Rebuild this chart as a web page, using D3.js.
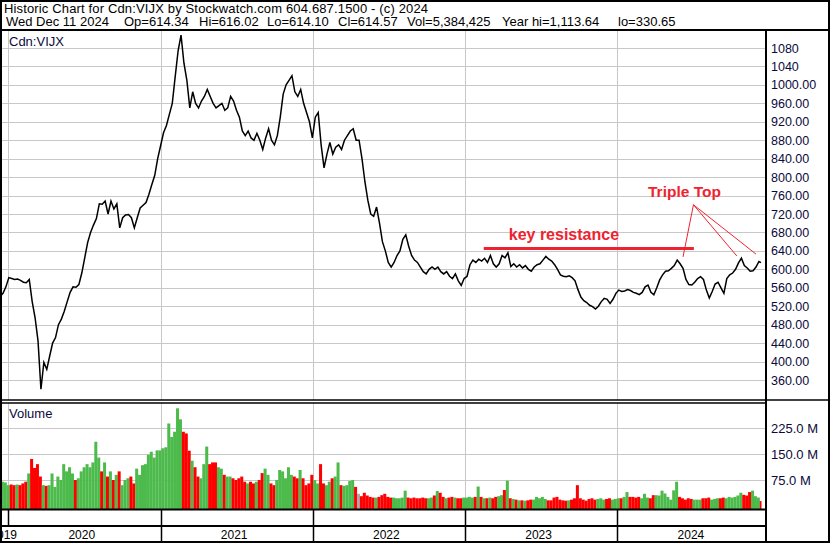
<!DOCTYPE html>
<html><head><meta charset="utf-8">
<script src="https://cdn.jsdelivr.net/npm/d3@7"></script>
<style>
html,body{margin:0;padding:0;background:#fff;}
svg{display:block;font-family:"Liberation Sans",Arial,sans-serif;}
</style></head><body>
<svg id="c" width="830" height="543"></svg>
<script>
// ---------- DATA ----------
const firstWeek = "2019-12-13";   // weekly closes, Fridays
const lastDay = "2024-12-11";     // final (partial week) close
const closes = [
541,548,562,582,580,578,579,576,572,571,
578,530,495,445,340,398,383,412,440,452,
480,492,509,530,550,562,561,567,592,625,
658,680,696,710,742,741,748,720,748,731,
742,690,712,718,719,712,690,712,733,739,
745,763,784,804,840,868,896,912,936,960,
1018,1074,1108,1047,1010,950,985,960,950,965,
975,990,975,960,950,955,960,945,950,975,
965,945,930,900,890,900,885,880,895,880,
860,885,905,880,870,890,930,980,1000,1010,
1020,985,975,990,960,940,920,885,930,940,
870,820,850,875,850,865,870,860,880,890,
900,905,880,880,840,790,750,720,715,735,
700,660,640,615,605,615,630,640,665,675,
650,630,620,615,605,595,590,600,605,600,
605,595,590,595,585,580,590,575,565,580,
585,610,620,615,622,618,624,615,630,612,
605,612,630,625,636,606,612,605,610,603,
608,600,596,605,610,612,620,628,622,618,
610,600,588,585,584,586,582,575,556,540,
532,528,522,519,514,520,530,537,535,526,
535,548,555,552,553,556,554,550,548,545,
550,562,566,550,545,560,577,588,596,597,
602,608,620,612,602,578,567,566,572,580,
584,578,555,538,552,568,572,560,548,580,
588,592,600,614,624,608,603,596,597,605,
617,614.57];
const volumesM = [
70,70,68,60,62,60,62,60,65,70,
94,136,110,121,85,60,58,60,94,55,
85,75,121,100,112,94,75,80,100,112,
121,112,126,186,140,100,126,85,100,75,
90,100,60,75,80,85,65,108,90,118,
121,148,157,140,161,161,167,170,239,200,
215,283,251,215,210,160,131,112,85,80,
121,172,121,126,126,112,108,90,85,85,
80,75,80,85,70,65,70,65,70,75,
95,108,90,65,60,75,104,100,80,112,
90,85,80,104,80,60,65,90,75,65,
121,65,60,70,80,85,126,60,58,60,
72,75,55,35,28,38,30,26,24,24,
26,31,35,26,24,24,22,22,24,44,
24,22,24,22,22,24,22,22,24,30,
43,38,26,22,24,26,24,22,22,24,
24,26,24,26,56,26,22,22,24,22,
26,28,31,46,73,22,20,18,16,16,
15,16,18,18,26,22,26,20,16,16,
24,26,18,16,15,16,18,22,60,22,
18,15,20,22,18,20,22,18,20,22,
18,20,22,22,26,40,26,26,24,26,
22,35,24,22,31,31,30,44,36,26,
18,45,70,26,22,18,22,20,18,18,
18,22,22,24,18,20,22,22,24,22,
26,24,26,30,38,32,30,40,44,28,
24,14];
const priceTicks = [360,400,440,480,520,560,600,640,680,720,760,800,840,880,920,960,1000,1040,1080];
const priceTickLabels = ["360.00","400.00","440.00","480.00","520.00","560.00","600.00","640.00","680.00","720.00","760.00","800.00","840.00","880.00","920.00","960.00","1000.00","1040","1080"];
const volumeTicks = [75,150,225];
const volumeTickLabels = ["75.0 M","150.0 M","225.0 M"];
const yearStarts = ["2020-01-01","2021-01-01","2022-01-01","2023-01-01","2024-01-01","2025-01-01"];
const yearLabels = ["2020","2021","2022","2023","2024"];
const headerLine1 = "Historic Chart for Cdn:VIJX by Stockwatch.com 604.687.1500 - (c) 2024";
const headerLine2 = ["Wed Dec 11 2024","Op=614.34","Hi=616.02","Lo=614.10","Cl=614.57","Vol=5,384,425","Year hi=1,113.64","lo=330.65"];
const headerLine2X = [6,124,199,267,338,407,502,618];
const symbolLabel = "Cdn:VIJX";
const resistanceLine = [["2023-02-15",645],["2024-07-03",645]];
const tripleTopApex = ["2024-07-02",740];
const tripleTopTargets = [["2024-06-07",627],["2024-10-14",629],["2024-11-29",633]];
const noteKey = ["key resistance","2023-04-16",664];
const noteTriple = ["Triple Top","2024-03-15",756];

// ---------- CHART ----------
const parse = d3.timeParse("%Y-%m-%d");
const dates = d3.timeFriday.range(parse(firstWeek), d3.timeDay.offset(parse(lastDay), -4));
dates.push(parse(lastDay));
const data = dates.map((d,i)=>({date:d, close:closes[i], vol:volumesM[i], prev: i>0?closes[i-1]:closes[i]}));

const svg = d3.select("#c");
const L=2, R=766, pT=31, pB=400, vT=403, vB=509;
const INK="#0a0a3c", GRID="#c8c8c8", RED="#ef2330";

const x = d3.scaleTime().domain([parse("2020-01-01"), parse(lastDay)]).range([8,761]);
const y = d3.scaleLinear().domain([360,1080]).range([380,48]);
const vy = d3.scaleLinear().domain([0,225]).range([505.85,428.3]);

svg.append("rect").attr("width",830).attr("height",543).attr("fill","#fff");

const defs = svg.append("defs");
defs.append("clipPath").attr("id","pc").append("rect").attr("x",L).attr("y",pT).attr("width",R-L).attr("height",pB-pT);
defs.append("clipPath").attr("id","vc").append("rect").attr("x",L).attr("y",vT).attr("width",R-L).attr("height",vB-vT);
defs.append("clipPath").attr("id","dc").append("rect").attr("x",2).attr("y",510).attr("width",R-2).attr("height",31);

// grid
const g = svg.append("g");
g.selectAll(".hg").data(priceTicks).join("line")
  .attr("x1",L).attr("x2",R).attr("y1",d=>Math.round(y(d))+0.5).attr("y2",d=>Math.round(y(d))+0.5)
  .attr("stroke",GRID);
g.selectAll(".vg").data(volumeTicks).join("line")
  .attr("x1",L).attr("x2",R).attr("y1",d=>Math.round(vy(d))+0.5).attr("y2",d=>Math.round(vy(d))+0.5)
  .attr("stroke",GRID);
const yb = yearStarts.slice(0,5).map(parse);
yb.forEach(d=>{
  const xx = Math.round(x(d))+0.5;
  g.append("line").attr("x1",xx).attr("x2",xx).attr("y1",pT).attr("y2",pB).attr("stroke",GRID);
  g.append("line").attr("x1",xx).attr("x2",xx).attr("y1",vT).attr("y2",vB).attr("stroke",GRID);
});

// volume bars
const wk = x(parse("2020-01-08")) - x(parse("2020-01-01"));
svg.append("g").attr("clip-path","url(#vc)").selectAll("rect").data(data).join("rect")
  .attr("x",(d,i)=> i===data.length-1 ? x(d.date)-wk*3/7 : x(d.date)-wk*5/7)
  .attr("width",(d,i)=> i===data.length-1 ? wk*3/7+0.5 : wk+0.1)
  .attr("y",d=>vy(d.vol)).attr("height",d=>vB-vy(d.vol))
  .attr("fill",d=> d.close>d.prev ? "#4cbb4c" : (d.close<d.prev ? "#ff0000" : "#aaaaaa"));

// price line
svg.append("path").datum(data).attr("clip-path","url(#pc)")
  .attr("d", d3.line().x(d=>x(d.date)).y(d=>y(d.close)))
  .attr("fill","none").attr("stroke","#000").attr("stroke-width",1.5).attr("stroke-linejoin","miter");

// annotations
svg.append("line")
  .attr("x1",x(parse(resistanceLine[0][0]))).attr("x2",x(parse(resistanceLine[1][0])))
  .attr("y1",y(resistanceLine[0][1])).attr("y2",y(resistanceLine[1][1]))
  .attr("stroke",RED).attr("stroke-width",3);
tripleTopTargets.forEach(t=>{
  svg.append("line")
    .attr("x1",x(parse(tripleTopApex[0]))).attr("y1",y(tripleTopApex[1]))
    .attr("x2",x(parse(t[0]))).attr("y2",y(t[1]))
    .attr("stroke",RED).attr("stroke-width",1);
});
svg.append("text").attr("x",x(parse(noteKey[1]))).attr("y",y(noteKey[2]))
  .attr("font-size",16).attr("font-weight","bold").attr("fill",RED).text(noteKey[0]);
svg.append("text").attr("x",x(parse(noteTriple[1]))).attr("y",y(noteTriple[2]))
  .attr("font-size",15.5).attr("font-weight","bold").attr("fill",RED).text(noteTriple[0]);

// panel labels
svg.append("text").attr("x",9).attr("y",45.5).attr("font-size",13).attr("fill",INK).text(symbolLabel);
svg.append("text").attr("x",9).attr("y",418).attr("font-size",13).attr("fill",INK).text("Volume");

// axis labels
svg.append("g").selectAll("text").data(priceTicks).join("text")
  .attr("x",771).attr("y",d=>y(d)+4.5).attr("font-size",12.5).attr("fill",INK)
  .text((d,i)=>priceTickLabels[i]);
svg.append("g").selectAll("text").data(volumeTicks).join("text")
  .attr("x",771).attr("y",d=>vy(d)+4.7).attr("font-size",13).attr("fill",INK)
  .text((d,i)=>volumeTickLabels[i]);

// date band
const black = svg.append("g").attr("stroke","#000");
black.append("line").attr("x1",0).attr("x2",R).attr("y1",509.5).attr("y2",509.5).attr("stroke-width",2);
black.append("line").attr("x1",0).attr("x2",R).attr("y1",526).attr("y2",526).attr("stroke-width",2);
yb.forEach((d,i)=>{
  const xx = Math.round(x(d))+0.5;
  black.append("line").attr("x1",xx).attr("x2",xx).attr("y1",510).attr("y2",526).attr("stroke-width",1.5);
  if(i>0) black.append("line").attr("x1",xx).attr("x2",xx).attr("y1",526).attr("y2",541).attr("stroke-width",1.5);
});
const dl = svg.append("g").attr("clip-path","url(#dc)");
const ys = yearStarts.map(parse);
yearLabels.forEach((lab,i)=>{
  dl.append("text").attr("x",(x(ys[i])+x(ys[i+1]))/2-2.5).attr("y",538.5)
    .attr("text-anchor","middle").attr("font-size",12).attr("fill","#000").text(lab);
});
dl.append("text").attr("x",17).attr("y",538.5).attr("text-anchor","end").attr("font-size",12).attr("fill","#000").text("2019");

// frame lines
black.append("line").attr("x1",0).attr("x2",830).attr("y1",30).attr("y2",30).attr("stroke-width",2);
black.append("line").attr("x1",0).attr("x2",830).attr("y1",400).attr("y2",400).attr("stroke-width",1.5);
black.append("line").attr("x1",0).attr("x2",R).attr("y1",403).attr("y2",403).attr("stroke-width",1.5);
black.append("line").attr("x1",766).attr("x2",766).attr("y1",30).attr("y2",543).attr("stroke-width",2);
svg.append("rect").attr("x",1).attr("y",1).attr("width",828).attr("height",541)
  .attr("fill","none").attr("stroke","#000").attr("stroke-width",2);

// header
svg.append("text").attr("x",4).attr("y",12.5).attr("font-size",13).attr("fill","#000")
  .attr("textLength",424).attr("lengthAdjust","spacing").text(headerLine1);
const h2 = svg.append("text").attr("y",26).attr("font-size",13).attr("fill","#000");
headerLine2.forEach((s,i)=> h2.append("tspan").attr("x",headerLine2X[i]).text(s));
</script>
</body></html>
